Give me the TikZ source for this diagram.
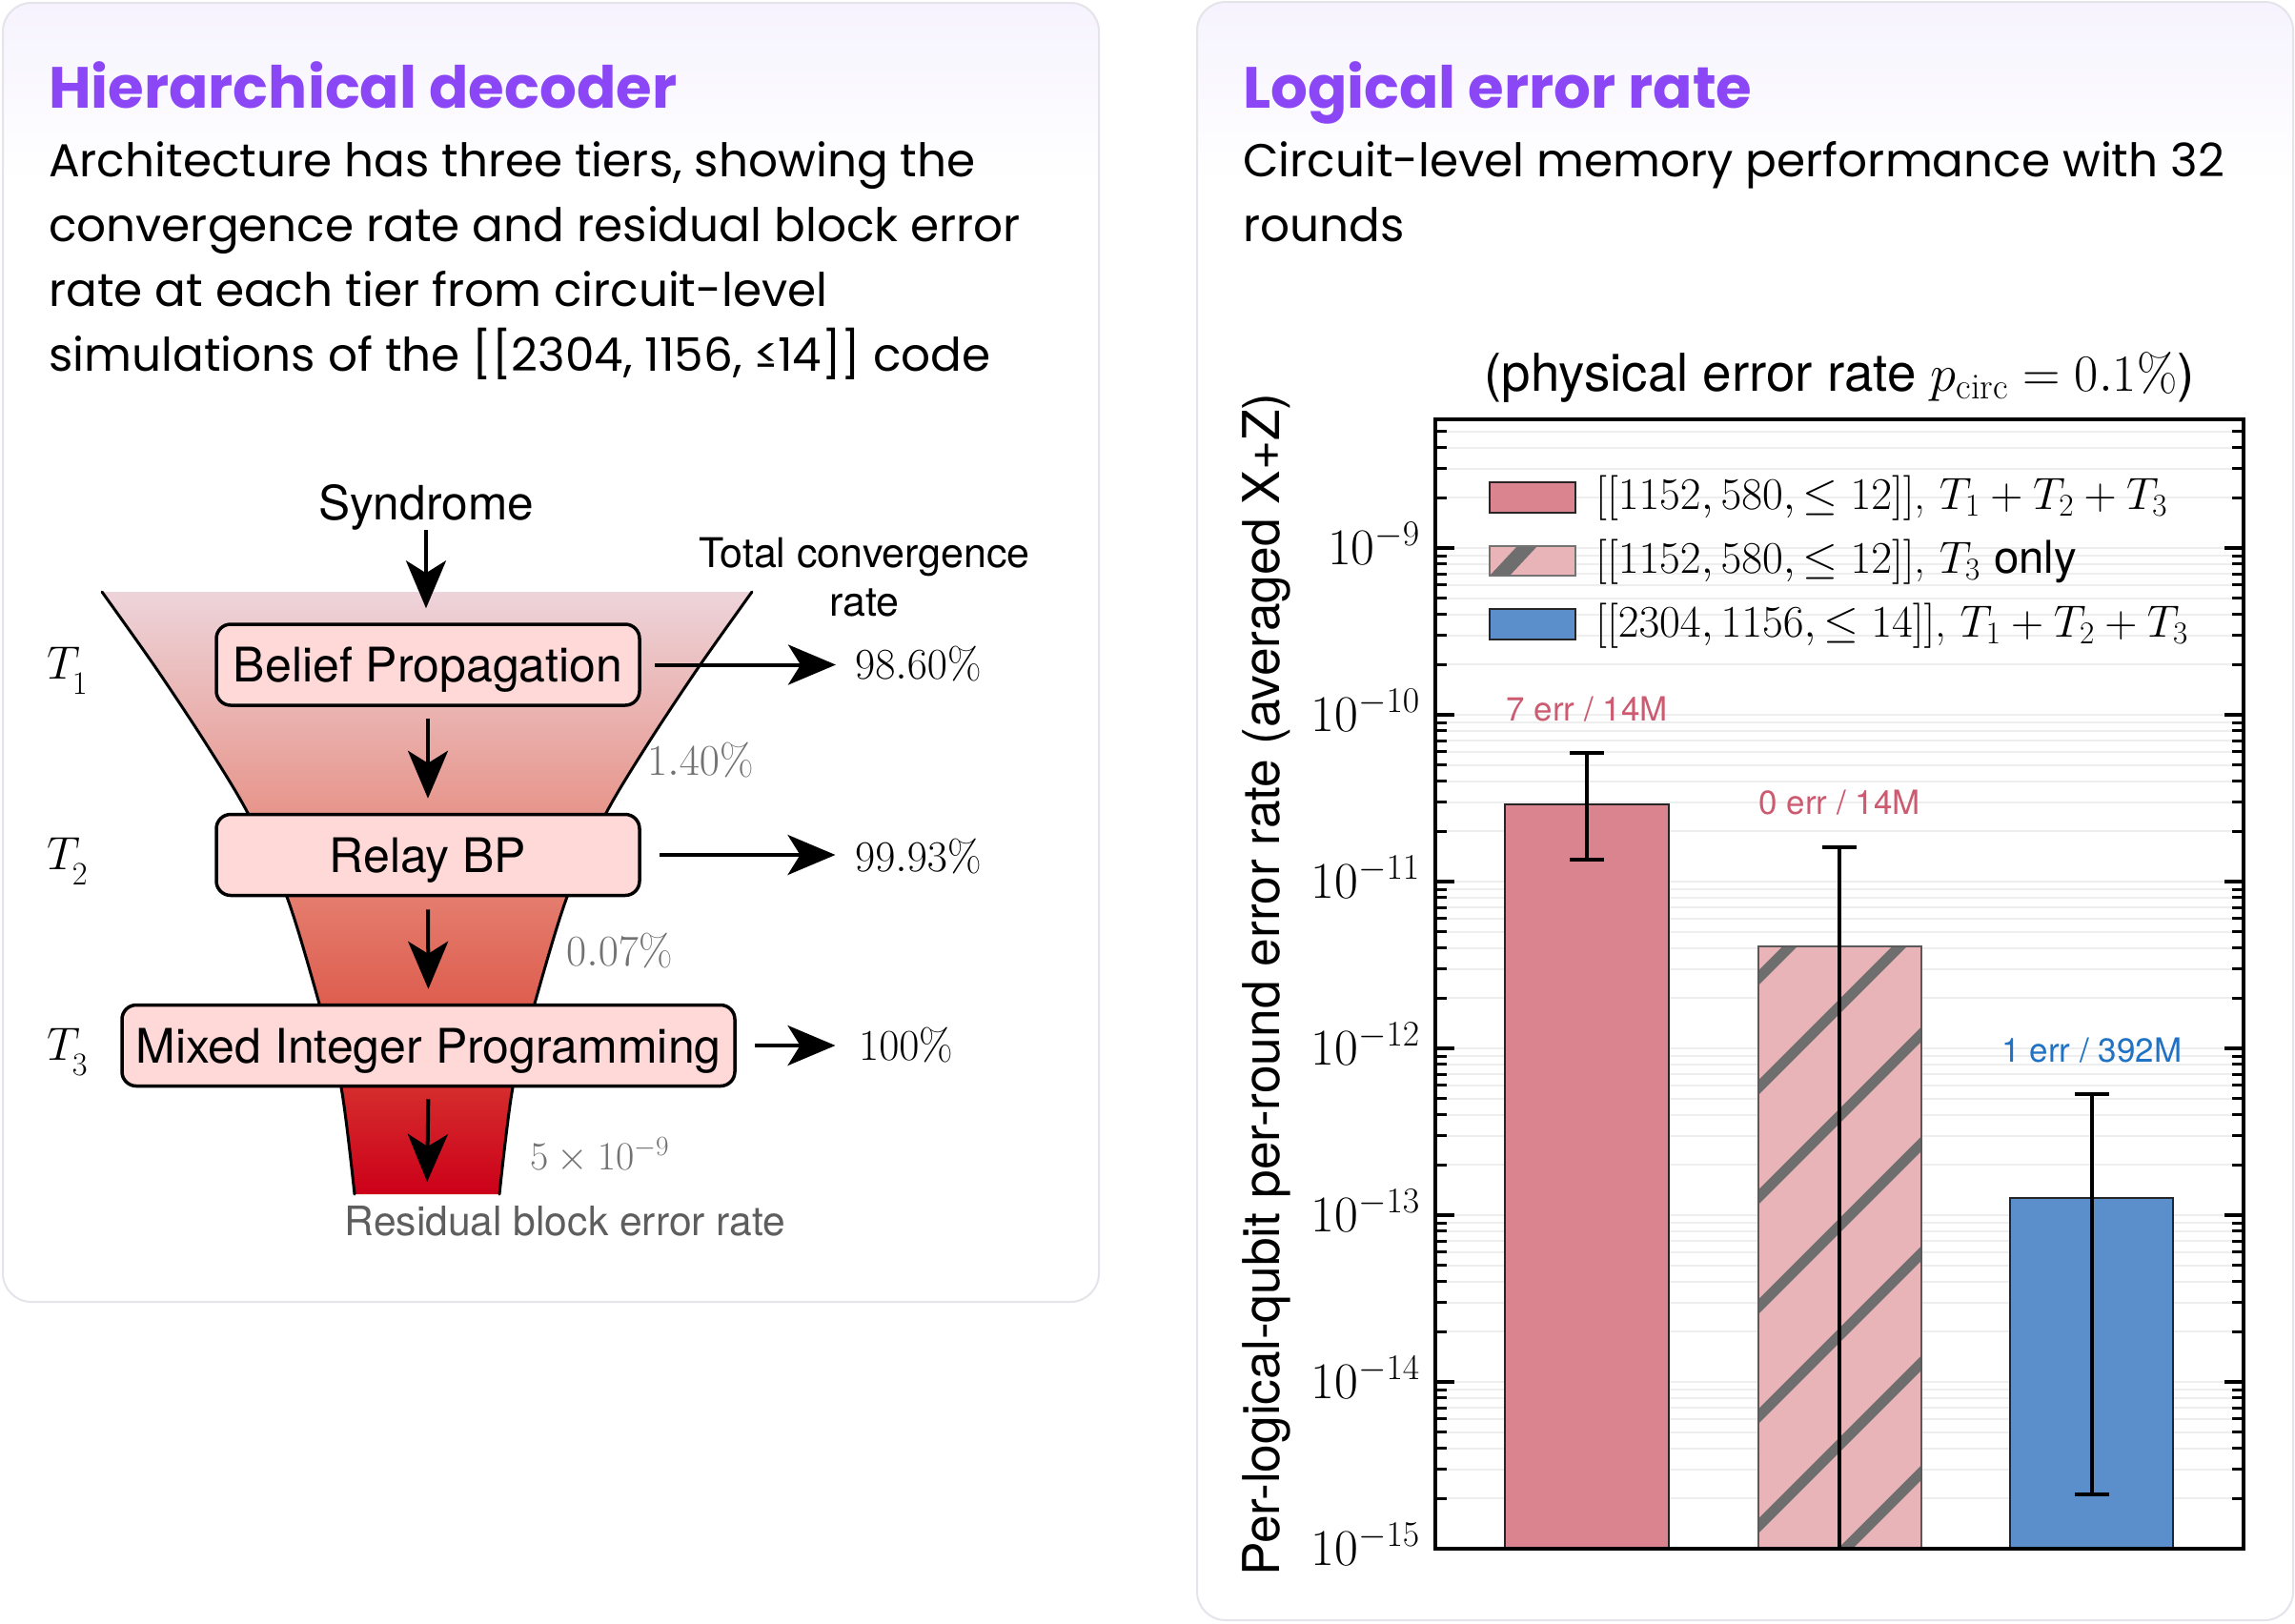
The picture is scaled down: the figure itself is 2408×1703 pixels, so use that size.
\RequirePackage{fix-cm}
\documentclass[tikz,border=0pt]{standalone}
\usepackage{fontspec}
\usetikzlibrary{arrows.meta}
\newfontfamily\pop{Poppins}
\newfontfamily\hel{TeX Gyre Heros}
\newcommand\fsz[1]{\fontsize{#1}{#1}\selectfont}
\definecolor{purp}{HTML}{8B47F6}
\definecolor{cardedge}{HTML}{E4E4EA}
\definecolor{lav}{HTML}{F6F3FE}
\definecolor{boxfill}{HTML}{FFD8D8}
\definecolor{barA}{HTML}{D9848F}
\definecolor{barB}{HTML}{E8B4B8}
\definecolor{barC}{HTML}{5B8FCB}
\definecolor{hatchc}{HTML}{6E6E6E}
\definecolor{pinklab}{HTML}{CC5A70}
\definecolor{bluelab}{HTML}{1F72C4}
\definecolor{graytxt}{HTML}{727272}
\definecolor{restxt}{HTML}{5E5E5E}
\definecolor{gridc}{HTML}{EEEEEE}
\definecolor{fb0}{RGB}{204,0,25}
\definecolor{fb1}{RGB}{213,45,45}
\definecolor{fb2}{RGB}{222,95,80}
\definecolor{fb3}{RGB}{228,125,110}
\definecolor{fb4}{RGB}{231,150,140}
\definecolor{fb5}{RGB}{234,180,178}
\definecolor{fb6}{RGB}{237,212,218}
\pgfdeclareverticalshading{funnelshade}{100bp}{color(0bp)=(fb0); color(25bp)=(fb0); color(33.9bp)=(fb1); color(41.1bp)=(fb2); color(49.8bp)=(fb3); color(56.9bp)=(fb4); color(65.6bp)=(fb5); color(75bp)=(fb6); color(100bp)=(fb6)}
\tikzset{
  tbox/.style={draw=black, line width=3.5pt, fill=boxfill, rounded corners=15pt, font=\hel\fsz{50}, inner sep=0pt, text height=36pt, text depth=0pt, minimum height=85pt},
  arr/.style={-{Stealth[length=50pt,width=42pt,inset=13pt]}, line width=4pt},
  pct/.style={font=\fsz{46}, inner sep=0pt, anchor=west},
  gpct/.style={font=\fsz{46}, inner sep=0pt, anchor=west, text=graytxt},
  tier/.style={font=\fsz{49}, inner sep=0pt, anchor=base west},
  gridmaj/.style={gridc, line width=2.5pt},
  gridmin/.style={gridc, line width=2pt},
  ebar/.style={line width=4pt, black},
  baredge/.style={draw=black!85, line width=2pt},
  ticklab/.style={font=\fsz{54}, inner sep=0pt, anchor=base east},
  legtxt/.style={font=\fsz{47.4}, inner sep=0pt, anchor=base west},
  note/.style={font=\hel\fsz{35}, inner sep=0pt},
  desc/.style={anchor=base west, inner sep=0pt, font=\pop\fsz{48.5}},
  head/.style={anchor=base west, inner sep=0pt, font=\pop\bfseries\fsz{61}, text=purp},
}
\begin{document}
\begin{tikzpicture}[x=1pt,y=-1pt]
\useasboundingbox (0,0) rectangle (2408,1703);
\fill[white] (0,0) rectangle (2408,1703);
% cards
\begin{scope}
\clip[rounded corners=30pt] (3,3) rectangle (1153,1366);
\fill[white] (3,3) rectangle (1153,1366);
\shade[top color=lav, bottom color=white] (3,3) rectangle (1153,190);
\end{scope}
\draw[cardedge, line width=2pt, rounded corners=30pt] (3,3) rectangle (1153,1366);
\begin{scope}
\clip[rounded corners=30pt] (1256,2) rectangle (2406,1700);
\fill[white] (1256,2) rectangle (2406,1700);
\shade[top color=lav, bottom color=white] (1256,2) rectangle (2406,190);
\end{scope}
\draw[cardedge, line width=2pt, rounded corners=30pt] (1256,2) rectangle (2406,1700);

% headers left
\node[head] (hl) at (51,113) {Hierarchical decoder};
\node[desc] (dl1) at (51,185) {Architecture has three tiers, showing the};
\node[desc] (dl2) at (51,253) {convergence rate and residual block error};
\node[desc] (dl3) at (51,321) {rate at each tier from circuit-level};
\node[desc] (dl4) at (51,389) {simulations of the [[2304, 1156, ≤14]] code};

% headers right
\node[head] (hr) at (1304,113) {Logical error rate};
\node[desc] (dr1) at (1304,185) {Circuit-level memory performance with 32};
\node[desc] (dr2) at (1304,253) {rounds};

% funnel
\shade[shading=funnelshade]
  plot[smooth,tension=.5] coordinates {(107,621) (163,700) (216,780) (260,853) (301,941) (335,1053) (358,1141) (372,1253)}
  -- plot[smooth,tension=.5] coordinates {(524,1253) (538,1141) (561,1053) (595,941) (636,853) (680,780) (733,700) (789,621)}
  -- cycle;
\draw[line width=3pt, line cap=round] plot[smooth,tension=.5] coordinates {(107,621) (163,700) (216,780) (260,853) (301,941) (335,1053) (358,1141) (372,1253)};
\draw[line width=3pt, line cap=round] plot[smooth,tension=.5] coordinates {(524,1253) (538,1141) (561,1053) (595,941) (636,853) (680,780) (733,700) (789,621)};

\node[tbox, minimum width=444pt] (bp) at (449,697.5) {Belief Propagation};
\node[tbox, minimum width=444pt] (relay) at (449,897) {Relay BP};
\node[tbox, minimum width=643pt] (mip) at (449.5,1097) {Mixed Integer Programming};

\node[anchor=base, inner sep=0pt, font=\hel\fsz{49.6}] (syn) at (447,545) {Syndrome};
\coordinate (fbot) at (448,1253);
\draw[arr, shorten >=15pt] (syn.south) -- (syn.south |- bp.north);
\draw[arr, shorten <=12pt, shorten >=15pt] (bp.south) -- (relay.north);
\draw[arr, shorten <=13pt, shorten >=15pt] (relay.south) -- (mip.north);
\draw[arr, shorten <=12pt, shorten >=13pt] (mip.south) -- (fbot);

\node[anchor=base, inner sep=0pt, font=\hel\fsz{43}] (tc1) at (907,595) {Total convergence};
\node[anchor=base, inner sep=0pt, font=\hel\fsz{43}] (tc2) at (907,646) {rate};

\node[pct] (c1) at (897,697) {$98.60\%$};
\node[pct] (c2) at (897,899) {$99.93\%$};
\node[pct] (c3) at (901,1097) {$100\%$};
\draw[arr, shorten <=14pt, shorten >=20pt] (bp.east) -- (bp.east -| c1.west);
\draw[arr, shorten <=19pt, shorten >=20.5pt] (relay.east) -- (relay.east -| c2.west);
\draw[arr, shorten <=19pt, shorten >=24.5pt] (mip.east) -- (mip.east -| c3.west);

\node[gpct] (g1) at (679,798) {$1.40\%$};
\node[gpct] (g2) at (594,998) {$0.07\%$};
\node[gpct, font=\fsz{42}] (g3) at (556,1212) {$5\times10^{-9}$};
\node[anchor=base, inner sep=0pt, font=\hel\fsz{42.6}, text=restxt] (res) at (593,1296) {Residual block error rate};

\node[tier] (t1) at (49,712) {$T\mkern-3mu\lower16pt\hbox{$\scriptstyle 1$}$};
\node[tier] (t2) at (49,912) {$T\mkern-3mu\lower16pt\hbox{$\scriptstyle 2$}$};
\node[tier] (t3) at (49,1112) {$T\mkern-3mu\lower16pt\hbox{$\scriptstyle 3$}$};

% ---------- plot ----------
\node[anchor=base, inner sep=0pt, font=\hel\fsz{54.7}] (ptitle) at (1930,410) {(physical error rate $p_{\mathrm{circ}}=0.1\%$)};
\node[rotate=90, inner sep=0pt, font=\hel\fsz{53.3}] (ylab) at (1329,1033) {Per-logical-qubit per-round error rate (averaged X+Z)};

% grid
\foreach \d in {9,...,15}{
  \pgfmathsetmacro\ym{575+175*(\d-9)}
  \draw[gridmaj] (1506,\ym) -- (2354,\ym);
}
\foreach \m in {2,...,5}{
  \pgfmathsetmacro\ym{575-175*log10(\m)}
  \draw[gridmin] (1506,\ym) -- (2354,\ym);
}
\foreach \d in {10,...,15}{\foreach \m in {2,...,9}{
  \pgfmathsetmacro\ym{575+175*(\d-9)-175*log10(\m)}
  \draw[gridmin] (1506,\ym) -- (2354,\ym);
}}

% bars
\fill[barA] (1579,844) rectangle (1751,1625);
\draw[baredge] (1579,1625) -- (1579,844) -- (1751,844) -- (1751,1625);
\begin{scope}
\clip (1845,993) rectangle (2016,1625);
\fill[barB] (1845,993) rectangle (2016,1625);
\foreach \c in {2871,2986,3101,3216,3331,3446,3561}
  \draw[hatchc, line width=11pt] (1780,{\c-1780}) -- (2080,{\c-2080});
\end{scope}
\draw[draw=black!65, line width=2pt] (1845,1625) -- (1845,993) -- (2016,993) -- (2016,1625);
\fill[barC] (2109,1257) rectangle (2280,1625);
\draw[baredge] (2109,1625) -- (2109,1257) -- (2280,1257) -- (2280,1625);

% error bars
\draw[ebar] (1665,790) -- (1665,902);
\draw[ebar] (1647,790) -- (1683,790);
\draw[ebar] (1647,902) -- (1683,902);
\draw[ebar] (1930,889) -- (1930,1625);
\draw[ebar] (1912,889) -- (1948,889);
\draw[ebar] (2195,1148) -- (2195,1568);
\draw[ebar] (2177,1148) -- (2213,1148);
\draw[ebar] (2177,1568) -- (2213,1568);

% annotations
\node[note, text=pinklab] (n1) at (1665,744) {7 err / 14M};
\node[note, text=pinklab] (n2) at (1930,842) {0 err / 14M};
\node[note, text=bluelab] (n3) at (2195,1102) {1 err / 392M};

% legend
\filldraw[fill=barA, draw=black!85, line width=2.5pt] (1563,506) rectangle (1653,538);
\begin{scope}
\clip (1563,573) rectangle (1653,604);
\fill[barB] (1563,573) rectangle (1653,604);
\fill[hatchc] (1563,604) -- (1584,604) -- (1613,573) -- (1592,573) -- cycle;
\end{scope}
\draw[draw=black!55, line width=2.5pt] (1563,573) rectangle (1653,604);
\filldraw[fill=barC, draw=black!85, line width=2.5pt] (1563,639) rectangle (1653,671);
\node[legtxt] (l1) at (1674,534) {$[[1152,580,\leq 12]]$, $T_1+T_2+T_3$};
\node[legtxt] (l2) at (1674,601) {$[[1152,580,\leq 12]]$, $T_3$ {\hel only}};
\node[legtxt] (l3) at (1674,668) {$[[2304,1156,\leq 14]]$, $T_1+T_2+T_3$};

% ticks
\foreach \d in {9,...,15}{
  \pgfmathsetmacro\ym{575+175*(\d-9)}
  \draw[line width=4pt] (1506,\ym) -- (1526,\ym);
  \draw[line width=4pt] (2354,\ym) -- (2334,\ym);
  \node[ticklab] at (1490,{\ym+17}) {$10^{-\d}$};
}
\foreach \m in {2,...,5}{
  \pgfmathsetmacro\ym{575-175*log10(\m)}
  \draw[line width=3pt] (1506,\ym) -- (1518,\ym);
  \draw[line width=3pt] (2354,\ym) -- (2342,\ym);
}
\foreach \d in {10,...,15}{\foreach \m in {2,...,9}{
  \pgfmathsetmacro\ym{575+175*(\d-9)-175*log10(\m)}
  \draw[line width=3pt] (1506,\ym) -- (1518,\ym);
  \draw[line width=3pt] (2354,\ym) -- (2342,\ym);
}}
\draw[line width=4pt] (1506,440) rectangle (2354,1625);
\end{tikzpicture}
\end{document}
